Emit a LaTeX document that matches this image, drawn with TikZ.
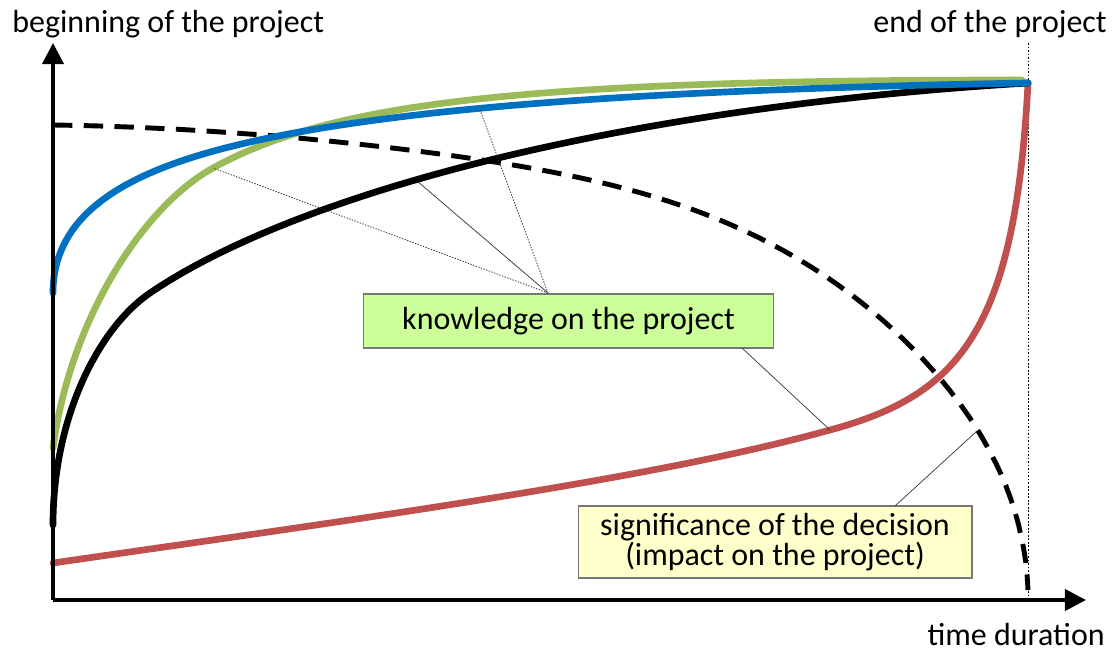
\documentclass[tikz,border=0pt]{standalone}
\usepackage{fontspec}
\setmainfont{Carlito}
\usetikzlibrary{arrows.meta}
\definecolor{cblue}{RGB}{0,112,192}
\definecolor{cgreen}{RGB}{155,187,89}
\definecolor{cred}{RGB}{192,80,77}
\definecolor{kfill}{RGB}{204,255,153}
\definecolor{sfill}{RGB}{255,255,204}
\definecolor{boxline}{RGB}{120,120,120}
\begin{document}
\begin{tikzpicture}[x=0.02cm,y=-0.02cm,
  curve/.style={line width=3.8pt,line cap=round,line join=round},
  axis/.style={line width=2.1pt,-{Triangle[length=12pt,width=12pt]}},
  dashcurve/.style={line width=2.8pt,dash pattern=on 11pt off 6.5pt},
  leader/.style={line width=0.4pt,black!80},
  dotleader/.style={line width=0.45pt,black!80,dash pattern=on 0.8pt off 0.8pt},
  lbl/.style={inner sep=0pt,font=\fontsize{18.2}{17}\selectfont},
  kbox/.style={draw=boxline,line width=0.6pt,fill=kfill,minimum width=8.22cm,minimum height=1.08cm,inner sep=0pt,font=\fontsize{18.2}{17}\selectfont},
  sbox/.style={draw=boxline,line width=0.6pt,fill=sfill,minimum width=7.88cm,minimum height=1.44cm,inner sep=0pt,align=center,font=\fontsize{18.2}{17}\selectfont}
]
\useasboundingbox (0,0) rectangle (1115,651);

% axes
\coordinate (O) at (53,600);
\coordinate (ytip) at (53,43);
\coordinate (xtip) at (1086,600);
\coordinate (endtop) at (1028,43);
\coordinate (endbot) at (1028,600);
\draw[line width=0.5pt,dash pattern=on 1pt off 1pt] (endtop) -- (endbot);

% curve key points
\coordinate (E) at (1028,83);
\coordinate (rs) at (53,563);
\coordinate (kred) at (830,430);
\coordinate (bs) at (53,525);
\coordinate (bm) at (150,293);
\coordinate (gs) at (53,448);
\coordinate (kg) at (213,168);
\coordinate (ge) at (1022,80);
\coordinate (ls) at (53,293);
\coordinate (lm) at (200,155);
\coordinate (ds) at (53,125);

% significance (red)
\draw[curve,cred] (rs) .. controls (350,520) and (650,480) .. (kred)
  .. controls (960,395) and (1015,330) .. (E);
% impact (dashed)
\draw[dashcurve] (ds) -- plot[domain=0.5:88.8,samples=160,variable=\p]
  ({53+975*pow(sin(\p),0.769)},{600-475*cos(\p)+8*sin(6*\p)*pow(cos(\p),2)});
% black
\draw[curve,black] (bs) .. controls (53,415) and (100,327) .. (bm)
  .. controls (300,191) and (628,107) .. (E);
% green
\draw[curve,cgreen] (gs) .. controls (70,320) and (143,206.5) .. (kg)
  .. controls (333,102) and (525,80) .. (ge);
% blue
\draw[curve,cblue] (ls) .. controls (53,223) and (110,182) .. (lm)
  .. controls (350,110) and (628,90) .. (E);

\draw[axis] (O) -- (ytip);
\draw[axis] (O) -- (xtip);

% labels
\node[lbl,anchor=base west] (beg) at (12,33) {beginning of the project};
\node[lbl,anchor=base east] (endl) at (1107,33) {end of the project};
\node[lbl,anchor=base east] (time) at (1105,645) {time duration};

% boxes
\node[kbox] (K) at (568.5,321) {knowledge on the project};
\node[sbox] (S) at (775,542) {significance of the decision\\(impact on the project)};

% leader points
\coordinate (kapex) at (548,293);
\coordinate (kb) at (417,181);
\coordinate (kbl) at (480,110);
\coordinate (kout) at (742,348);
\coordinate (sout) at (895,506);
\coordinate (sdash) at (977,431);

\draw[dotleader] (kapex) -- (kg);
\draw[leader] (kapex) -- (kb);
\draw[dotleader] (kapex) -- (kbl);
\draw[leader] (kout) -- (kred);
\draw[leader] (sout) -- (sdash);
\end{tikzpicture}
\end{document}
